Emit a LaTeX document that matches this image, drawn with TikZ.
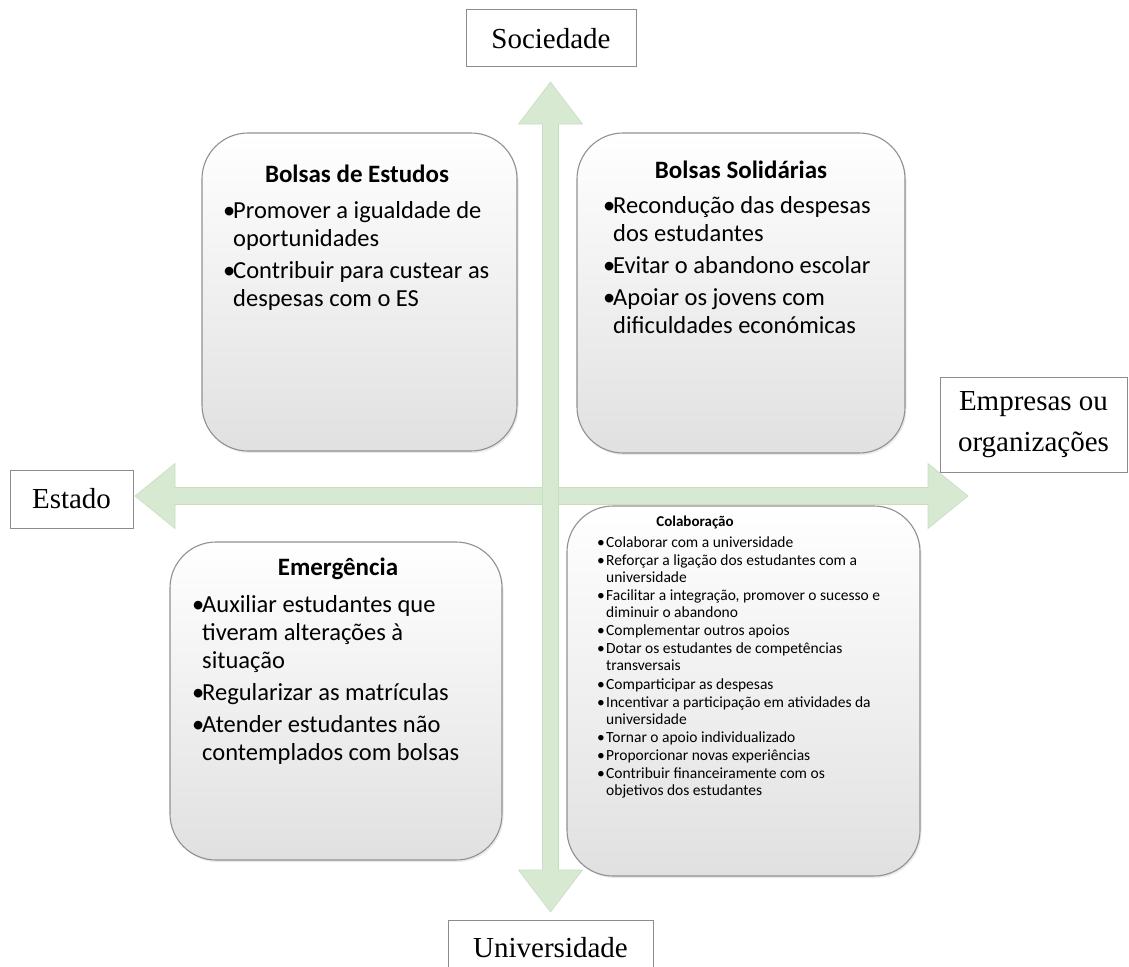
\documentclass[tikz,border=0pt]{standalone}
\usepackage{fontspec}
\setmainfont{Liberation Serif}
\newfontfamily\calib{Carlito}
\usetikzlibrary{shadows}
\definecolor{arrowgreen}{RGB}{215,233,209}
\definecolor{arrowedge}{RGB}{200,222,194}
\definecolor{boxline}{RGB}{145,145,145}
\newcommand{\bul}[2][10pt]{\par\hangindent=#1\hangafter=1\noindent\makebox[#1][l]{•}#2}
\tikzset{
  qbox/.style={rectangle, rounded corners=46pt, draw=boxline, line width=1.1pt,
    top color=white, middle color=white, bottom color=black!12, inner sep=0pt,
    drop shadow={opacity=0.16, shadow xshift=1.5pt, shadow yshift=-2pt}},
  lbl/.style={rectangle, draw=black!45, line width=1pt, fill=white, inner sep=0pt,
    font=\fontsize{29}{41}\selectfont, align=center},
  head/.style={anchor=base, inner sep=0pt, font=\calib\bfseries\fontsize{25}{28}\selectfont},
  smallhead/.style={anchor=base, inner sep=0pt, font=\calib\bfseries\fontsize{15}{18}\selectfont},
  body/.style={anchor=base west, inner sep=0pt},
  bigarrow/.style={fill=arrowgreen, draw=arrowedge, line width=0.6pt, line join=miter}
}
\begin{document}
\begin{tikzpicture}[x=1pt,y=-1pt]
\useasboundingbox (0,0) rectangle (1129,966);
\clip (0,0) rectangle (1129,966);
\fill[white] (0,0) rectangle (1129,966);

% arrows
\coordinate (vtop) at (550.5,82);
\coordinate (hleft) at (135,496);
\draw[bigarrow] (hleft) -- ++(40,-32.5) -- ++(0,24) -- ++(753,0) -- ++(0,-24)
  -- ++(40,32.5) -- ++(-40,32.5) -- ++(0,-24) -- ++(-753,0) -- ++(0,24) -- cycle;
\draw[bigarrow] (vtop) -- ++(32,42) -- ++(-24,0) -- ++(0,746) -- ++(24,0)
  -- ++(-32,42) -- ++(-32,-42) -- ++(24,0) -- ++(0,-746) -- ++(-24,0) -- cycle;

% quadrant boxes
\node[qbox, minimum width=315pt, minimum height=318pt] (tl) at (359.5,292) {};
\node[qbox, minimum width=328pt, minimum height=320pt] (tr) at (741,293) {};
\node[qbox, minimum width=332pt, minimum height=318pt] (bl) at (336,701) {};
\node[qbox, minimum width=353pt, minimum height=370pt] (br) at (743.5,691) {};

% top-left
\node[head] (tlh) at (357,182) {Bolsas de Estudos};
\node[body] (tlb) at (223,218) {\parbox[t]{300pt}{\calib\fontsize{24.5}{28}\selectfont\parskip=4pt
  \bul{Promover a igualdade de\newline oportunidades}
  \bul{Contribuir para custear as\newline despesas com o ES}}};

% top-right
\node[head] (trh) at (741,178) {Bolsas Solidárias};
\node[body] (trb) at (603,213) {\parbox[t]{300pt}{\calib\fontsize{24.5}{28}\selectfont\parskip=4pt
  \bul{Recondução das despesas\newline dos estudantes}
  \bul{Evitar o abandono escolar}
  \bul{Apoiar os jovens com\newline dificuldades económicas}}};

% bottom-left
\node[head] (blh) at (338,575) {Emergência};
\node[body] (blb) at (192,612) {\parbox[t]{310pt}{\calib\fontsize{24.5}{28}\selectfont\parskip=4pt
  \bul{Auxiliar estudantes que\newline tiveram alterações à\newline situação}
  \bul{Regularizar as matrículas}
  \bul{Atender estudantes não\newline contemplados com bolsas}}};

% bottom-right
\node[smallhead] (brh) at (695,526) {Colaboração};
\node[body] (brb) at (597,547) {\parbox[t]{320pt}{\calib\fontsize{15.5}{17}\selectfont\parskip=1.2pt
  \bul[9pt]{Colaborar com a universidade}
  \bul[9pt]{Reforçar a ligação dos estudantes com a\newline universidade}
  \bul[9pt]{Facilitar a integração, promover o sucesso e\newline diminuir o abandono}
  \bul[9pt]{Complementar outros apoios}
  \bul[9pt]{Dotar os estudantes de competências\newline transversais}
  \bul[9pt]{Comparticipar as despesas}
  \bul[9pt]{Incentivar a participação em atividades da\newline universidade}
  \bul[9pt]{Tornar o apoio individualizado}
  \bul[9pt]{Proporcionar novas experiências}
  \bul[9pt]{Contribuir financeiramente com os\newline objetivos dos estudantes}}};

% axis labels
\node[lbl, minimum width=170pt, minimum height=57pt] (soc) at (551,38.5) {Sociedade};
\node[lbl, minimum width=123pt, minimum height=58pt] (est) at (71.5,499) {Estado};
\node[lbl, minimum width=187pt, minimum height=95pt] (emp) at (1033.5,424.5) {Empresas ou\\organizações};
\node[lbl, minimum width=205pt, minimum height=56pt] (uni) at (550.5,948) {Universidade};
\end{tikzpicture}
\end{document}
